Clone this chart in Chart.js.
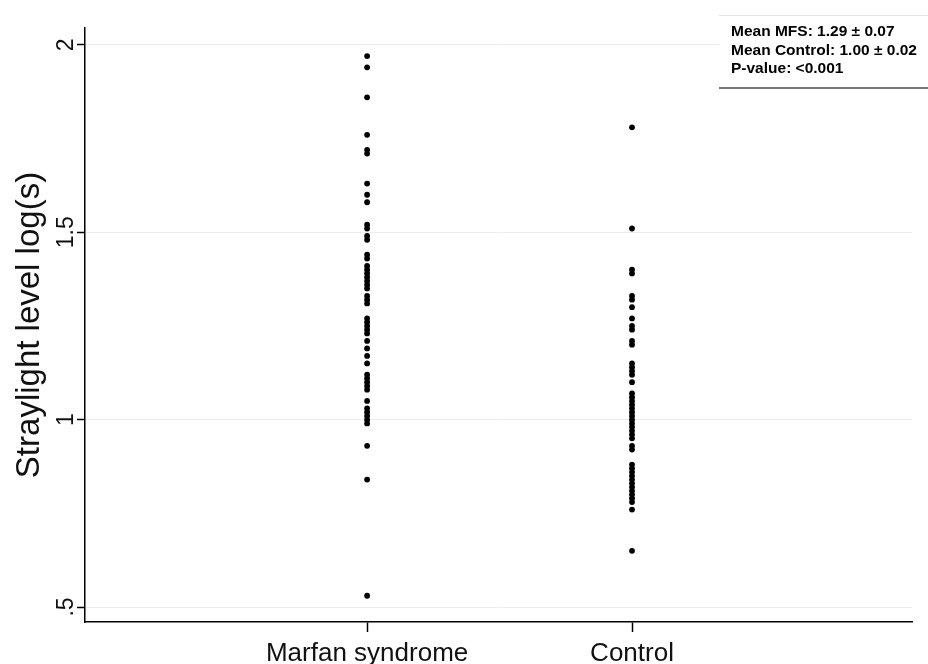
<!DOCTYPE html>
<html>
<head>
<meta charset="utf-8">
<script src="https://cdn.jsdelivr.net/npm/chart.js@4.4.1/dist/chart.umd.min.js"></script>
<style>
  html, body { margin: 0; padding: 0; background: #fff; }
  #wrap { width: 928px; height: 664px; }
</style>
</head>
<body>
<div id="wrap"><canvas id="chart" width="928" height="664"></canvas></div>
<script>
// groups on the x axis
const groups = ['Marfan syndrome', 'Control']
const groupPos = [1, 2]

// straylight values log(s)
const marfan = [1.97, 1.94, 1.86, 1.76, 1.72, 1.71, 1.63, 1.60, 1.58, 1.52, 1.51,
    1.49, 1.48, 1.44, 1.43, 1.41, 1.40, 1.39, 1.38, 1.37, 1.36, 1.35, 1.33, 1.32,
    1.31, 1.27, 1.26, 1.25, 1.24, 1.23, 1.21, 1.19, 1.17, 1.15, 1.12, 1.11, 1.10,
    1.09, 1.08, 1.05, 1.03, 1.02, 1.01, 1.00, 0.99, 0.93, 0.84, 0.53]
const control = [1.78, 1.51, 1.40, 1.39, 1.33, 1.32, 1.30, 1.27, 1.25, 1.24, 1.21,
    1.20, 1.15, 1.14, 1.13, 1.12, 1.10, 1.07, 1.06, 1.05, 1.04, 1.03, 1.02, 1.01,
    1.00, 0.99, 0.98, 0.97, 0.96, 0.95, 0.93, 0.92, 0.88, 0.87, 0.86, 0.85, 0.84,
    0.83, 0.82, 0.81, 0.80, 0.79, 0.78, 0.76, 0.65]

const yTickValues = [0.5, 1, 1.5, 2]
const yTickLabels = ['.5', '1', '1.5', '2']
const yTitle = 'Straylight level log(s)'

const statLines = ['Mean MFS: 1.29 \u00B1 0.07', 'Mean Control: 1.00 \u00B1 0.02', 'P-value: <0.001']

const FONT = 'Arial, "Liberation Sans", sans-serif'

// rotated y tick labels + the stats box in the corner
const extras = {
    id: 'extras',
    afterDraw(chart){
        const ctx = chart.ctx
        const y = chart.scales.y
        ctx.save()
        ctx.fillStyle = '#111'
        ctx.font = '23px ' + FONT
        ctx.textAlign = 'center'
        ctx.textBaseline = 'middle'
        yTickValues.forEach((v, i) => {
            const py = y.getPixelForValue(v)
            ctx.save()
            ctx.translate(67, py)
            ctx.rotate(-Math.PI / 2)
            ctx.fillText(yTickLabels[i], 0, 0)
            ctx.restore()
        })

        // stats box
        ctx.fillStyle = '#fff'
        ctx.fillRect(719, 15, 209, 73)
        ctx.strokeStyle = '#e4e4e4'
        ctx.lineWidth = 1
        ctx.beginPath(); ctx.moveTo(719, 15.5); ctx.lineTo(928, 15.5); ctx.stroke()
        ctx.strokeStyle = '#777'
        ctx.lineWidth = 2
        ctx.beginPath(); ctx.moveTo(719, 88); ctx.lineTo(928, 88); ctx.stroke()
        ctx.fillStyle = '#000'
        ctx.font = 'bold 15.5px ' + FONT
        ctx.textAlign = 'left'
        ctx.textBaseline = 'alphabetic'
        statLines.forEach((t, i) => ctx.fillText(t, 731, 36 + i * 18.5))
        ctx.restore()
    }
}

const ctx = document.getElementById('chart').getContext('2d')
const myChart = new Chart(ctx, {
    type: 'scatter',
    data: {
        datasets: [
            {
                label: groups[0],
                data: marfan.map(v => ({x: groupPos[0], y: v})),
            },
            {
                label: groups[1],
                data: control.map(v => ({x: groupPos[1], y: v})),
            }
        ]
    },
    options: {
        responsive: false,
        animation: false,
        layout: { padding: { top: 28, right: 16, left: 0, bottom: 0 } },
        elements: {
            point: { radius: 2.9, backgroundColor: '#000', borderWidth: 0, pointStyle: 'circle' }
        },
        plugins: {
            legend: { display: false },
            tooltip: { enabled: false }
        },
        scales: {
            x: {
                type: 'linear',
                min: -0.065,
                max: 3.057,
                afterBuildTicks: scale => { scale.ticks = groupPos.map(v => ({value: v})) },
                afterFit: scale => { scale.height = 42 },
                ticks: {
                    autoSkip: false,
                    maxRotation: 0,
                    color: '#111',
                    font: { family: FONT, size: 26 },
                    padding: 6,
                    callback: function(value){
                        return groups[groupPos.indexOf(value)]
                    }
                },
                grid: { drawOnChartArea: false, tickLength: 10, tickColor: '#000', tickWidth: 1.5 },
                border: { color: '#000', width: 1.5 }
            },
            y: {
                min: 0.46,
                max: 2.045,
                afterBuildTicks: scale => { scale.ticks = yTickValues.map(v => ({value: v})) },
                afterFit: scale => { scale.width = 85 },
                ticks: { display: false },
                grid: { color: '#ececec', lineWidth: 1, tickLength: 8, tickColor: '#000', tickWidth: 1.5 },
                border: { color: '#000', width: 1.5 },
                title: {
                    display: true,
                    text: yTitle,
                    color: '#111',
                    font: { family: FONT, size: 33 },
                    padding: { top: 10, bottom: 0 }
                }
            }
        }
    },
    plugins: [extras]
})
</script>
</body>
</html>
